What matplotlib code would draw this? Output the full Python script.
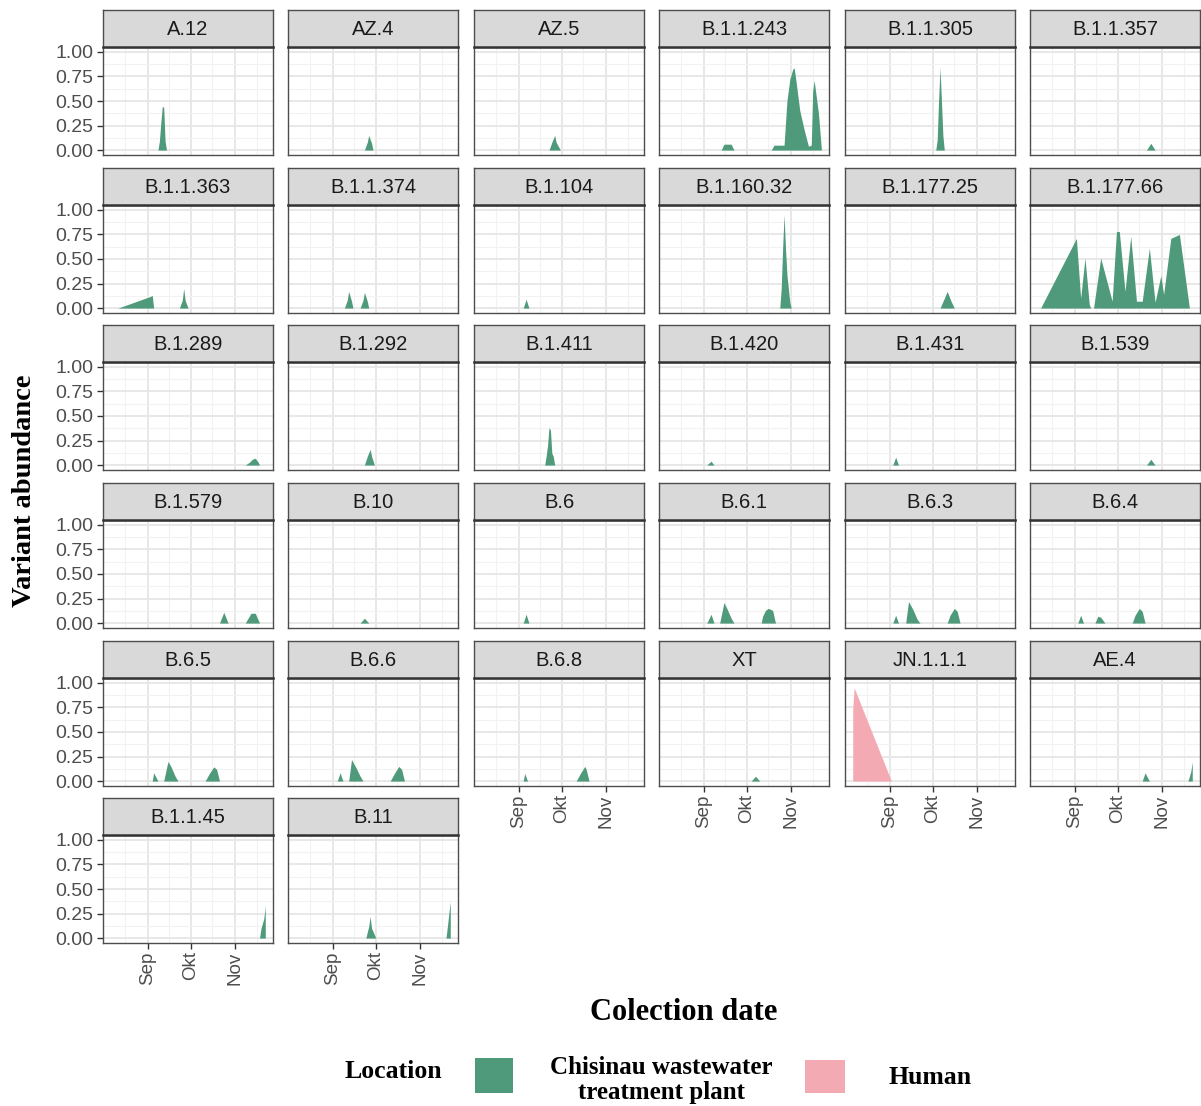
import matplotlib
matplotlib.use("Agg")
import matplotlib.pyplot as plt
import matplotlib.dates as mdates
from matplotlib.patches import Rectangle
import pandas as pd

YEAR = 2023
WW = "Chisinau wastewater treatment plant"
HUMAN = "Human"

# ---- variant abundance per lineage: (month-day, abundance) ----
A_12 = [("09-08", 0), ("09-09", 0.09), ("09-10", 0.28), ("09-11", 0.44), ("09-12", 0.44), ("09-13", 0.09), ("09-14", 0)]
AZ_4 = [("09-23", 0), ("09-25", 0.08), ("09-26", 0.15), ("09-28", 0.07), ("09-29", 0)]
AZ_5 = [("09-22", 0), ("09-24", 0.08), ("09-26", 0.15), ("09-27", 0.08), ("09-30", 0)]
B_1_1_243 = [("09-13", 0), ("09-15", 0.06), ("09-20", 0.06), ("09-22", 0),
             ("10-18", 0), ("10-20", 0.05), ("10-25", 0.05), ("10-27", 0.05), ("10-29", 0.5),
             ("10-31", 0.72), ("11-02", 0.82), ("11-03", 0.84), ("11-04", 0.74), ("11-07", 0.4),
             ("11-10", 0.21), ("11-13", 0.04), ("11-15", 0.05), ("11-16", 0.6), ("11-17", 0.71),
             ("11-20", 0.38), ("11-22", 0.02)]
B_1_1_305 = [("10-03", 0), ("10-04", 0.1), ("10-05", 0.5), ("10-06", 0.84), ("10-07", 0.5), ("10-08", 0.15), ("10-09", 0)]
B_1_1_357 = [("10-21", 0), ("10-24", 0.07), ("10-27", 0)]
B_1_1_363 = [("08-11", 0), ("09-03", 0.12), ("09-04", 0.13), ("09-05", 0),
             ("09-23", 0), ("09-25", 0.08), ("09-26", 0.2), ("09-27", 0.08), ("09-29", 0)]
B_1_1_374 = [("09-09", 0), ("09-11", 0.08), ("09-12", 0.17), ("09-14", 0.07), ("09-15", 0),
             ("09-20", 0), ("09-22", 0.08), ("09-23", 0.16), ("09-25", 0.07), ("09-26", 0)]
B_1_104 = [("09-04", 0), ("09-06", 0.09), ("09-08", 0)]
B_1_160_32 = [("10-24", 0), ("10-25", 0.2), ("10-26", 0.61), ("10-27", 0.95), ("10-28", 0.61), ("10-29", 0.34), ("10-31", 0.06), ("11-01", 0)]
B_1_177_25 = [("10-06", 0), ("10-09", 0.1), ("10-11", 0.17), ("10-14", 0.06), ("10-16", 0)]
B_1_177_66 = [("08-08", 0), ("09-02", 0.71), ("09-05", 0.1), ("09-08", 0.51), ("09-11", 0.04),
              ("09-12", 0), ("09-14", 0), ("09-19", 0.51), ("09-27", 0.07), ("09-30", 0.78),
              ("10-02", 0.78), ("10-06", 0.17), ("10-10", 0.73), ("10-14", 0.07), ("10-18", 0.07),
              ("10-23", 0.61), ("10-27", 0.06), ("10-31", 0.33), ("11-02", 0.14), ("11-07", 0.71),
              ("11-13", 0.75), ("11-20", 0)]
B_1_289 = [("11-08", 0), ("11-11", 0.03), ("11-13", 0.06), ("11-15", 0.07), ("11-17", 0.03), ("11-18", 0)]
B_1_292 = [("09-23", 0), ("09-25", 0.09), ("09-27", 0.16), ("09-28", 0.09), ("09-30", 0)]
B_1_411 = [("09-19", 0), ("09-20", 0.09), ("09-21", 0.2), ("09-22", 0.38), ("09-23", 0.36), ("09-24", 0.12), ("09-25", 0.09), ("09-26", 0)]
B_1_420 = [("09-03", 0), ("09-06", 0.04), ("09-08", 0)]
B_1_431 = [("09-03", 0), ("09-05", 0.08), ("09-07", 0)]
B_1_539 = [("10-21", 0), ("10-24", 0.06), ("10-27", 0)]
B_1_579 = [("10-21", 0), ("10-24", 0.11), ("10-27", 0),
           ("11-08", 0), ("11-12", 0.1), ("11-15", 0.1), ("11-18", 0)]
B_10 = [("09-20", 0), ("09-23", 0.05), ("09-26", 0)]
B_6 = [("09-04", 0), ("09-06", 0.09), ("09-08", 0)]
B_6_1 = [("09-03", 0), ("09-06", 0.09), ("09-08", 0),
         ("09-12", 0), ("09-15", 0.21), ("09-17", 0.15), ("09-20", 0.05), ("09-22", 0),
         ("10-11", 0), ("10-12", 0.07), ("10-14", 0.13), ("10-16", 0.15), ("10-19", 0.13), ("10-21", 0)]
B_6_3 = [("09-03", 0), ("09-05", 0.08), ("09-07", 0),
         ("09-12", 0), ("09-14", 0.22), ("09-17", 0.14), ("09-20", 0.04), ("09-22", 0),
         ("10-11", 0), ("10-13", 0.08), ("10-16", 0.15), ("10-18", 0.12), ("10-20", 0)]
B_6_4 = [("09-03", 0), ("09-05", 0.08), ("09-07", 0),
         ("09-15", 0), ("09-17", 0.07), ("09-19", 0.06), ("09-22", 0),
         ("10-11", 0), ("10-13", 0.08), ("10-16", 0.15), ("10-18", 0.12), ("10-20", 0)]
B_6_5 = [("09-04", 0), ("09-05", 0.085), ("09-08", 0),
         ("09-12", 0), ("09-15", 0.2), ("09-17", 0.15), ("09-20", 0.05), ("09-22", 0),
         ("10-11", 0), ("10-14", 0.08), ("10-17", 0.145), ("10-19", 0.12), ("10-21", 0)]
B_6_6 = [("09-04", 0), ("09-06", 0.085), ("09-08", 0),
         ("09-12", 0), ("09-14", 0.22), ("09-17", 0.14), ("09-20", 0.05), ("09-22", 0),
         ("10-11", 0), ("10-14", 0.08), ("10-17", 0.15), ("10-19", 0.12), ("10-21", 0)]
B_6_8 = [("09-04", 0), ("09-05", 0.078), ("09-07", 0),
         ("10-11", 0), ("10-14", 0.08), ("10-17", 0.15), ("10-18", 0.12), ("10-20", 0)]
XT = [("10-04", 0), ("10-07", 0.05), ("10-10", 0)]
JN_1_1_1 = [("08-06", 0.73), ("08-07", 0.95), ("09-02", 0)]
AE_4 = [("10-18", 0), ("10-20", 0.085), ("10-23", 0),
        ("11-19", 0), ("11-21", 0.1), ("11-22", 0.195)]
B_1_1_45 = [("11-18", 0), ("11-19", 0.1), ("11-21", 0.2), ("11-22", 0.33)]
B_11 = [("09-24", 0), ("09-26", 0.12), ("09-27", 0.22), ("09-28", 0.1), ("10-01", 0),
        ("11-19", 0), ("11-20", 0.12), ("11-21", 0.25), ("11-22", 0.37)]

lineages = ["A.12", "AZ.4", "AZ.5", "B.1.1.243", "B.1.1.305", "B.1.1.357",
            "B.1.1.363", "B.1.1.374", "B.1.104", "B.1.160.32", "B.1.177.25", "B.1.177.66",
            "B.1.289", "B.1.292", "B.1.411", "B.1.420", "B.1.431", "B.1.539",
            "B.1.579", "B.10", "B.6", "B.6.1", "B.6.3", "B.6.4",
            "B.6.5", "B.6.6", "B.6.8", "XT", "JN.1.1.1", "AE.4",
            "B.1.1.45", "B.11"]
series = [A_12, AZ_4, AZ_5, B_1_1_243, B_1_1_305, B_1_1_357,
          B_1_1_363, B_1_1_374, B_1_104, B_1_160_32, B_1_177_25, B_1_177_66,
          B_1_289, B_1_292, B_1_411, B_1_420, B_1_431, B_1_539,
          B_1_579, B_10, B_6, B_6_1, B_6_3, B_6_4,
          B_6_5, B_6_6, B_6_8, XT, JN_1_1_1, AE_4,
          B_1_1_45, B_11]
locations = [WW] * 28 + [HUMAN] + [WW] * 3

month_ticks = ["09-01", "10-01", "11-01"]
month_labels = ["Sep", "Okt", "Nov"]
mid_month_ticks = ["08-16", "09-16", "10-16", "11-16"]
y_ticks = [0.0, 0.25, 0.5, 0.75, 1.0]
y_labels = ["0.00", "0.25", "0.50", "0.75", "1.00"]

fill_colors = {WW: "#4F9A7A", HUMAN: "#F4AAB2"}


def to_num(md_list):
    return mdates.date2num(pd.to_datetime([f"{YEAR}-{md}" for md in md_list]))


# ---- figure layout (pixels) ----
W, H = 1201, 1106
fig = plt.figure(figsize=(W / 100, H / 100), dpi=100)

col_left = [103, 288, 474, 659, 845, 1030]
row_top = [47, 205, 362, 520, 678, 835]
panel_w, panel_h, strip_h = 170, 108, 37
ncol = 6


def frac(x, y, w, h):
    return [x / W, 1 - (y + h) / H, w / W, h / H]


all_x = [v for s in series for v in to_num([d for d, _ in s])]
x_min, x_max = min(all_x), max(all_x)
pad = 0.05 * (x_max - x_min)

border = "#4D4D4D"
tick_col = "#4D4D4D"
sans = ["Liberation Sans", "DejaVu Sans"]
serif = ["Liberation Serif", "DejaVu Serif"]

for i, (name, data, loc) in enumerate(zip(lineages, series, locations)):
    r, c = divmod(i, ncol)
    ax = fig.add_axes(frac(col_left[c], row_top[r], panel_w, panel_h))
    x = to_num([d for d, _ in data])
    y = [v for _, v in data]
    ax.fill_between(x, 0, y, color=fill_colors[loc], lw=0, zorder=3)

    ax.set_xlim(x_min - pad, x_max + pad)
    ax.set_ylim(-0.05, 1.05)
    ax.set_xticks(to_num(month_ticks))
    ax.set_xticks(to_num(mid_month_ticks), minor=True)
    ax.set_yticks(y_ticks)
    ax.set_yticks([0.125, 0.375, 0.625, 0.875], minor=True)
    ax.set_facecolor("white")
    ax.grid(which="major", color="#E6E6E6", lw=1.3, zorder=0)
    ax.grid(which="minor", color="#F2F2F2", lw=0.8, zorder=0)
    ax.set_axisbelow(True)
    for sp in ax.spines.values():
        sp.set_color(border)
        sp.set_linewidth(1.0)

    # last panel in each column carries the date axis
    bottom_of_col = (i + ncol >= len(lineages))
    ax.tick_params(which="minor", length=0)
    ax.tick_params(axis="x", which="major", length=4 if bottom_of_col else 0,
                   color="#333333", width=1, labelbottom=bottom_of_col, pad=2)
    if bottom_of_col:
        ax.set_xticklabels(month_labels, rotation=90, fontsize=13.5,
                           color=tick_col, family=sans)
    ax.tick_params(axis="y", which="major", length=4 if c == 0 else 0,
                   color="#333333", width=1, labelleft=(c == 0), pad=3)
    if c == 0:
        ax.set_yticklabels(y_labels, fontsize=14, color=tick_col, family=sans)

    sax = fig.add_axes(frac(col_left[c], row_top[r] - strip_h, panel_w, strip_h))
    sax.set_facecolor("#D9D9D9")
    sax.set_xticks([])
    sax.set_yticks([])
    for sp in sax.spines.values():
        sp.set_color(border)
        sp.set_linewidth(1.0)
    sax.spines["bottom"].set_color("#333333")
    sax.spines["bottom"].set_linewidth(1.8)
    sax.text(0.5, 0.47, name, ha="center", va="center", fontsize=14.5,
             color="#1A1A1A", family=sans, transform=sax.transAxes)

# ---- axis titles ----
fig.text(25 / W, 1 - 491 / H, "Variant abundance", rotation=90, ha="center",
         va="center", fontsize=20.5, fontweight="bold", family=serif)
fig.text(684 / W, 1 - 1013 / H, "Colection date", ha="center", va="center",
         fontsize=22, fontweight="bold", family=serif)

# ---- legend ----
fig.text(393 / W, 1 - 1072 / H, "Location", ha="center", va="center",
         fontsize=18.5, fontweight="bold", family=serif)
fig.patches.append(Rectangle((475 / W, 1 - 1093 / H), 38 / W, 35 / H,
                             transform=fig.transFigure, facecolor=fill_colors[WW],
                             edgecolor="none"))
fig.text(661 / W, 1 - 1080 / H, "Chisinau wastewater\ntreatment plant",
         ha="center", va="center", fontsize=18, fontweight="bold",
         family=serif, linespacing=1.15)
fig.patches.append(Rectangle((805 / W, 1 - 1093 / H), 40 / W, 33 / H,
                             transform=fig.transFigure, facecolor=fill_colors[HUMAN],
                             edgecolor="none"))
fig.text(930 / W, 1 - 1077 / H, "Human", ha="center", va="center",
         fontsize=18.5, fontweight="bold", family=serif)

fig.savefig("out.png", dpi=100)
